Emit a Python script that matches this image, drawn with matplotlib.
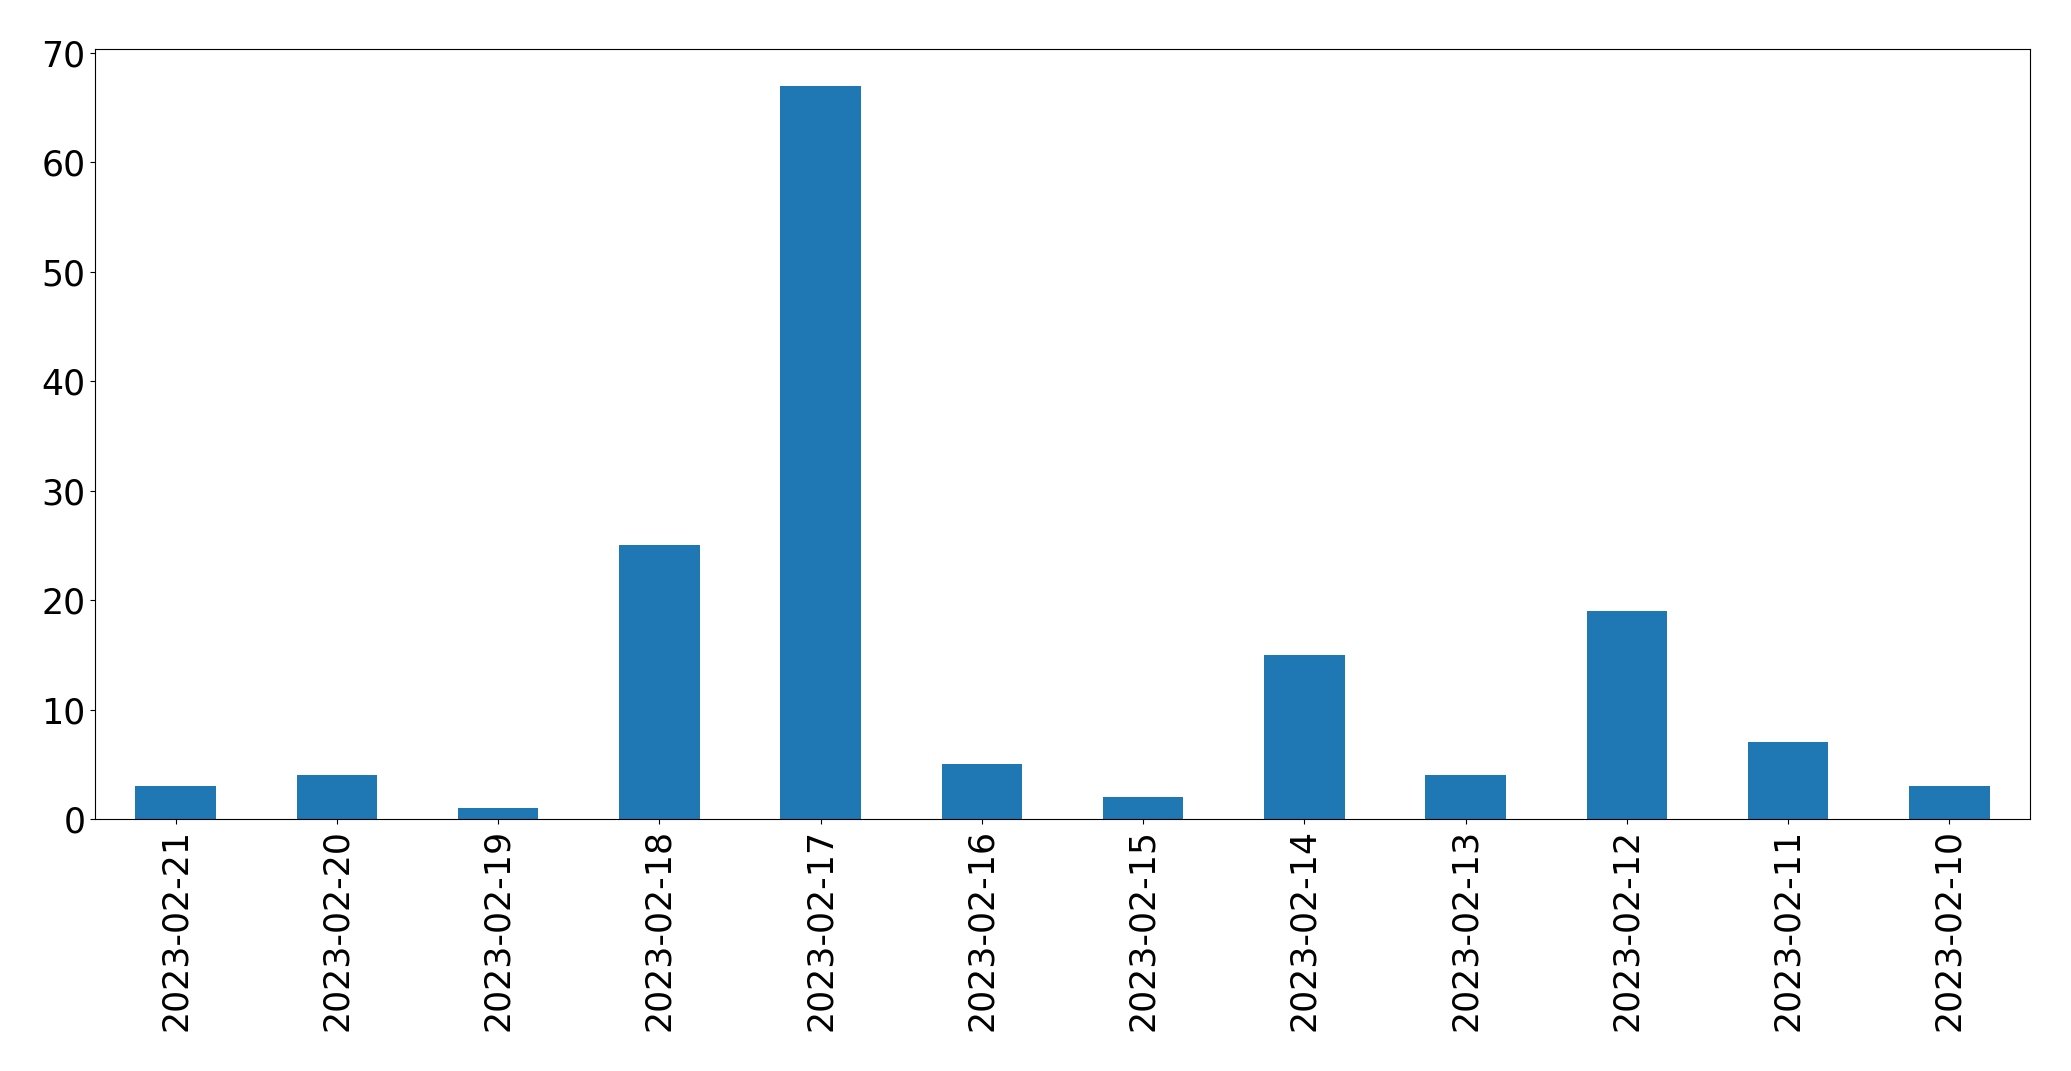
import numpy as np
from matplotlib import pyplot as plt

plt.rcParams.update({'font.size': 25})

dates = ["2023-02-21", "2023-02-20", "2023-02-19", "2023-02-18", "2023-02-17", "2023-02-16",
         "2023-02-15", "2023-02-14", "2023-02-13", "2023-02-12", "2023-02-11", "2023-02-10"]
counts = [3, 4, 1, 25, 67, 5, 2, 15, 4, 19, 7, 3]

fig = plt.figure(figsize=(20.71, 10.71), dpi=100)
ax = fig.add_axes([95 / 2071, 1 - 819 / 1071, (2030 - 95) / 2071, (819 - 49) / 1071])

x = np.arange(len(dates))
ax.bar(x, counts, width=0.5, color='#1f77b4')
ax.set_xticks(x)
ax.set_xticklabels(dates, rotation=90)
ax.set_xlim(-0.5, len(dates) - 0.5)

fig.savefig("out.png")
